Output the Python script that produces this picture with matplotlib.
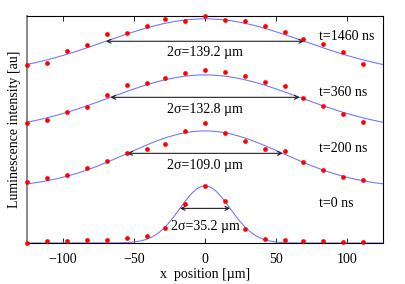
import numpy as np
import matplotlib
matplotlib.use("Agg")
from matplotlib import pyplot as plt

plt.rcParams['font.family'] = ['Liberation Serif', 'DejaVu Serif']

# measured points, x in um
x_pts = [-125, -111, -97, -83, -69, -55, -41, -28, -14, 0, 14, 28, 42, 56, 69, 83, 97, 111]

# normalized intensities
i_0 = [0.005, 0.035, 0.035, 0.047, 0.058, 0.082, 0.128, 0.268, 0.684, 1.0,
       0.737, 0.246, 0.075, 0.053, 0.035, 0.030, 0.023, 0.018]
i_200 = [0.10, 0.17, 0.23, 0.35, 0.47, 0.61, 0.675, 0.775, 0.99, 1.146,
         0.965, 0.815, 0.68, 0.65, 0.45, 0.32, 0.19, 0.14]
i_360 = [0.163, 0.21, 0.35, 0.444, 0.644, 0.828, 0.85, 0.942, 1.032, 1.09,
         1.05, 0.977, 0.88, 0.81, 0.60, 0.456, 0.32, 0.17]
i_1460 = [0.188, 0.223, 0.439, 0.549, 0.728, 0.746, 0.877, 1.0, 0.968, 1.056,
          0.974, 0.965, 0.874, 0.767, 0.654, 0.561, 0.416, 0.205]

times = ['t=0 ns', 't=200 ns', 't=360 ns', 't=1460 ns']
two_sigma = [35.2, 109.0, 132.8, 139.2]   # fitted widths in um
offsets = [0.0, 0.965, 1.947, 2.93]       # vertical shift of each trace
label_drop = [0.31, 0.21, 0.21, 0.2]      # width label below arrow
series = [i_0, i_200, i_360, i_1460]

fig = plt.figure(figsize=(4.05, 2.84), dpi=100)
ax = fig.add_axes([0.0667, 0.1444, 0.879, 0.7993])

xx = np.linspace(-125, 125, 400)
for vals, sig2, off, lab, dr in zip(series, two_sigma, offsets, times, label_drop):
    s = sig2 / 2
    ax.plot(xx, off + np.exp(-0.5 * (xx / s) ** 2), color='#7777ff', lw=0.8)
    ax.plot(x_pts, off + np.array(vals), 'o', color='red', ms=3.4,
            mec='none', clip_on=False, zorder=5)
    ya = off + np.exp(-0.5)
    ax.annotate('', xy=(-s, ya), xytext=(s, ya),
                arrowprops=dict(arrowstyle='<->', color='#222222', lw=0.8,
                                shrinkA=0, shrinkB=0, mutation_scale=7))
    ax.text(0, ya - dr, '2\u03c3=%.1f \u00b5m' % sig2, ha='center',
            va='center', fontsize=10)
    ax.text(80, off + 0.69, lab, ha='left', va='center', fontsize=10)

ax.set_xlim(-125, 125)
ax.set_ylim(0, 3.98)
ax.set_xticks([-100, -50, 0, 50, 100])
ax.set_yticks([])
ax.tick_params(axis='x', direction='in', top=True, length=3.5, width=0.6,
               labelsize=10, pad=7)
for sp in ['top', 'right', 'bottom']:
    ax.spines[sp].set_linewidth(0.8)
ax.spines['left'].set_color('#888888')
ax.spines['left'].set_linewidth(1.4)

ax.set_xlabel('x  position [\u00b5m]', fontsize=10, labelpad=2)
ax.set_ylabel('Luminescence intensity [au]', fontsize=10, labelpad=4)

fig.savefig('out.png', dpi=100)
